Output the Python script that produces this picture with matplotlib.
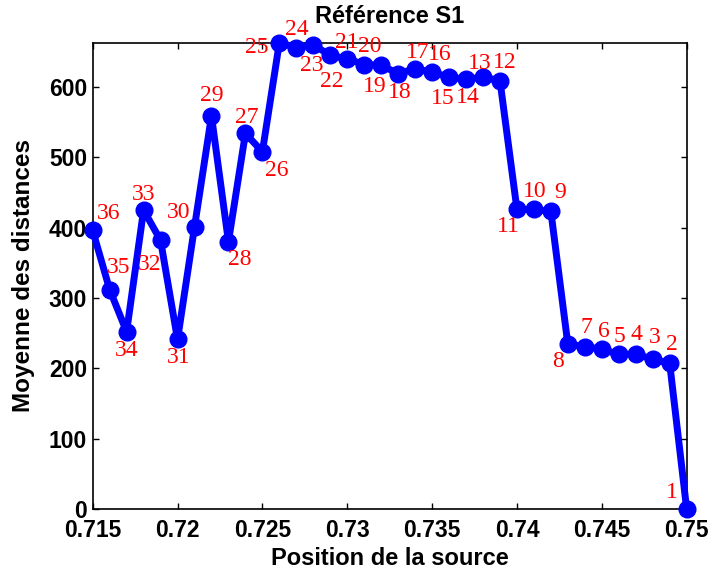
import matplotlib
matplotlib.use("Agg")
import matplotlib.pyplot as plt
import numpy as np

# Data (position of source, mean distance), labels 36 -> 1
positions = [0.715, 0.716, 0.717, 0.718, 0.719, 0.720, 0.721, 0.722, 0.723, 0.724,
             0.725, 0.726, 0.727, 0.728, 0.729, 0.730, 0.731, 0.732, 0.733, 0.734,
             0.735, 0.736, 0.737, 0.738, 0.739, 0.740, 0.741, 0.742, 0.743, 0.744,
             0.745, 0.746, 0.747, 0.748, 0.749, 0.750]
distances = [396, 312, 252, 425, 382, 241, 401, 559, 380, 534,
             508, 663, 656, 660, 645, 640, 632, 631, 619, 626,
             621, 614, 611, 614, 609, 426, 426, 423, 234, 231,
             227, 220, 220, 213, 207, 0]
point_labels = [str(n) for n in range(36, 0, -1)]

xticks = [0.715, 0.72, 0.725, 0.73, 0.735, 0.74, 0.745, 0.75]
xticklabels = ['0.715', '0.72', '0.725', '0.73', '0.735', '0.74', '0.745', '0.75']
yticks = [0, 100, 200, 300, 400, 500, 600]

# label offsets in pixels (dx, dy up) - layout only
label_offsets = [(16, 17), (9, 22), (0, -19), (0, 16), (-11, -24), (1, -18),
                 (-16, 14), (0, 20), (11, -18), (1, 16), (14, -19), (-23, -5),
                 (0, 18), (-2, -21), (1, -26), (0, 16), (6, 18), (-6, -21),
                 (2, -19), (3, 16), (8, 18), (-6, -21), (2, -18), (-3, 14),
                 (5, 18), (-9, -17), (1, 18), (9, 19), (-10, -17), (2, 19),
                 (2, 18), (1, 18), (1, 20), (2, 22), (2, 19), (-15, 16)]

fig = plt.figure(figsize=(7.14, 5.71), dpi=100)
ax = fig.add_axes([0.1298, 0.1086, 0.8319, 0.8166])

ax.plot(positions, distances, color=(0, 0, 1), linewidth=5, marker='o',
        markersize=12, clip_on=False, zorder=3)

for x, y, lab, (dx, dy) in zip(positions, distances, point_labels, label_offsets):
    ax.annotate(lab, (x, y), xytext=(dx, dy), textcoords='offset pixels',
                ha='center', va='center', color='red', fontsize=17,
                family='Liberation Serif', zorder=4, annotation_clip=False)

ax.set_xlim(0.715, 0.75)
ax.set_ylim(0, max(distances))
ax.set_xticks(xticks)
ax.set_xticklabels(xticklabels)
ax.set_yticks(yticks)

bold = dict(family='Liberation Sans', weight='bold')
for t in ax.get_xticklabels() + ax.get_yticklabels():
    t.set_fontfamily('Liberation Sans')
    t.set_fontweight('bold')
    t.set_fontsize(16.5)

ax.tick_params(direction='in', length=4, width=1, top=True, right=True)
ax.tick_params(axis='x', pad=7)
ax.tick_params(axis='y', pad=4)
for s in ax.spines.values():
    s.set_linewidth(1.2)

ax.set_title('Référence S1', fontsize=17, pad=14, **bold)
ax.set_xlabel('Position de la source', fontsize=17, labelpad=4, **bold)
ax.set_ylabel('Moyenne des distances', fontsize=17.5, labelpad=10, **bold)

fig.savefig('out.png', dpi=100)
